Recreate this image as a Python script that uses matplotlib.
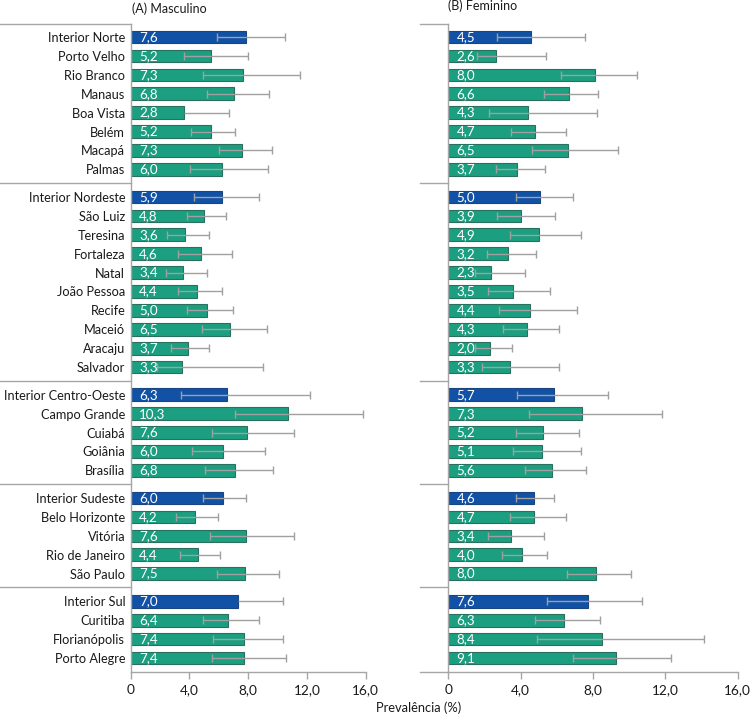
import numpy as np
import matplotlib
matplotlib.use("Agg")
import matplotlib.pyplot as plt

plt.rcParams['font.family'] = ['Lato', 'DejaVu Sans']

# ---------------- data ----------------
groups = ["Norte", "Nordeste", "Centro-Oeste", "Sudeste", "Sul"]
group_sizes = [8, 10, 5, 5, 4]
cities = [
    "Interior Norte", "Porto Velho", "Rio Branco", "Manaus", "Boa Vista", "Belém", "Macapá", "Palmas",
    "Interior Nordeste", "São Luiz", "Teresina", "Fortaleza", "Natal", "João Pessoa", "Recife", "Maceió",
    "Aracaju", "Salvador",
    "Interior Centro-Oeste", "Campo Grande", "Cuiabá", "Goiânia", "Brasília",
    "Interior Sudeste", "Belo Horizonte", "Vitória", "Rio de Janeiro", "São Paulo",
    "Interior Sul", "Curitiba", "Florianópolis", "Porto Alegre",
]

# printed prevalence values
masc_labels = [7.6, 5.2, 7.3, 6.8, 2.8, 5.2, 7.3, 6.0,
               5.9, 4.8, 3.6, 4.6, 3.4, 4.4, 5.0, 6.5, 3.7, 3.3,
               6.3, 10.3, 7.6, 6.0, 6.8,
               6.0, 4.2, 7.6, 4.4, 7.5,
               7.0, 6.4, 7.4, 7.4]
fem_labels = [4.5, 2.6, 8.0, 6.6, 4.3, 4.7, 6.5, 3.7,
              5.0, 3.9, 4.9, 3.2, 2.3, 3.5, 4.4, 4.3, 2.0, 3.3,
              5.7, 7.3, 5.2, 5.1, 5.6,
              4.6, 4.7, 3.4, 4.0, 8.0,
              7.6, 6.3, 8.4, 9.1]

# bar lengths as drawn
masc_bar = [7.87, 5.47, 7.62, 7.05, 3.65, 5.45, 7.60, 6.19,
            6.19, 5.01, 3.70, 4.76, 3.56, 4.53, 5.22, 6.76, 3.88, 3.47,
            6.58, 10.71, 7.92, 6.26, 7.08,
            6.26, 4.36, 7.85, 4.56, 7.78,
            7.33, 6.60, 7.69, 7.73]
masc_low = [5.85, 3.65, 4.92, 5.22, np.nan, 4.13, 5.99, 4.04,
            4.31, 3.85, 2.49, 3.24, 2.40, 3.24, 3.83, 4.87, 2.74, 1.77,
            3.45, 7.08, 5.56, 4.19, 5.08,
            4.94, 3.11, 5.40, 3.36, 5.90,
            np.nan, 4.94, 5.62, 5.56]
masc_high = [10.53, 7.96, 11.55, 9.41, 6.71, 7.12, 9.60, 9.37,
             8.73, 6.51, 5.35, 6.92, 5.17, 6.24, 6.99, 9.30, 5.35, 9.01,
             12.18, 15.84, 11.14, 9.17, 9.67,
             7.85, 5.96, 11.14, 6.08, 10.12,
             10.35, 8.71, 10.37, 10.55]

fem_bar = [4.57, 2.62, 8.13, 6.66, 4.41, 4.78, 6.64, 3.78,
           5.09, 4.00, 5.02, 3.28, 2.34, 3.56, 4.52, 4.34, 2.29, 3.41,
           5.83, 7.38, 5.24, 5.18, 5.72,
           4.72, 4.74, 3.47, 4.06, 8.15,
           7.71, 6.38, 8.48, 9.28]
fem_low = [2.71, 1.57, 6.23, 5.31, 2.27, 3.45, 4.61, 2.65,
           3.73, 2.68, 3.43, 2.16, 1.48, 2.21, 2.82, 3.03, 1.48, 1.86,
           3.78, 4.46, 3.76, 3.60, 4.22,
           3.76, 3.43, 2.21, 2.99, 6.55,
           5.48, 4.81, 4.91, 6.90]
fem_high = [7.54, 5.42, 10.45, 8.30, 8.24, 6.53, 9.40, 5.37,
            6.88, 5.88, 7.32, 4.87, 4.26, 5.64, 7.10, 6.10, 3.51, 6.12,
            8.82, 11.84, 7.25, 7.36, 7.62,
            5.83, 6.51, 5.31, 5.48, 10.10,
            10.71, 8.41, 14.16, 12.32]

xticks = [0, 4, 8, 12, 16]
xtick_labels = ["0", "4,0", "8,0", "12,0", "16,0"]

# ---------------- layout ----------------
BLUE = "#1152a6"
GREEN = "#1c9f80"
BLUE_EDGE = "#1a4580"
GREEN_EDGE = "#2b6f5f"
LINE = "#a6a6a6"
ERR = "#a0a0a0"
TXT = "#1a1a1a"
GAP = 0.465

ypos = []
seps = []
idx = 0
for g, n in enumerate(group_sizes):
    for k in range(n):
        ypos.append(idx + g * GAP)
        idx += 1
ypos = np.array(ypos)
starts = np.cumsum([0] + group_sizes[:-1])
for s in starts[1:]:
    seps.append((ypos[s - 1] + ypos[s]) / 2)
first_idx = set(starts.tolist())
colors = [BLUE if i in first_idx else GREEN for i in range(len(cities))]
edges = [BLUE_EDGE if i in first_idx else GREEN_EDGE for i in range(len(cities))]

ytop = ypos[0] - 0.69
ybot = ypos[-1] + 0.74

W, H = 750, 716
fig = plt.figure(figsize=(W / 100, H / 100), dpi=100)
bottom = (H - 672) / H
height = (672 - 24) / H
axL = fig.add_axes([130.7 / W, bottom, 235 / W, height])
axR = fig.add_axes([448.3 / W, bottom, 289.4 / W, height])


def draw(ax, bars, low, high, labels, sep_left_px, axis_w_px, show_names):
    bars = np.array(bars)
    low = np.array(low)
    high = np.array(high)
    ax.barh(ypos, bars, height=0.67, color=colors, edgecolor=edges,
            linewidth=0.8, zorder=2)
    xs = np.where(np.isnan(low), bars, low)
    ax.hlines(ypos, xs, high, color=ERR, linewidth=1.0, zorder=3)
    ax.scatter(high, ypos, marker='|', s=40, color=ERR, linewidths=1.0, zorder=3)
    ok = ~np.isnan(low)
    ax.scatter(low[ok], ypos[ok], marker='|', s=40, color=ERR, linewidths=1.0, zorder=3)
    for y, v in zip(ypos, labels):
        ax.annotate(f"{v:.1f}".replace('.', ','), xy=(0, y), xytext=(6, 0),
                    textcoords='offset points', va='center', ha='left',
                    color='white', fontsize=9.6, zorder=4)
    ax.set_xlim(0, 16)
    ax.set_ylim(ybot, ytop)
    ax.set_xticks(xticks)
    ax.set_xticklabels(xtick_labels, fontsize=9.8, color=TXT)
    ax.tick_params(axis='x', direction='out', length=5, color=LINE, width=1, pad=4)
    ax.set_yticks(ypos)
    if show_names:
        ax.set_yticklabels(cities, fontsize=9.2, color=TXT)
    else:
        ax.set_yticklabels([])
    ax.tick_params(axis='y', length=0, pad=4)
    for s in ['top', 'right']:
        ax.spines[s].set_visible(False)
    for s in ['left', 'bottom']:
        ax.spines[s].set_color(LINE)
        ax.spines[s].set_linewidth(1)
    tr = ax.get_yaxis_transform()
    x0 = -sep_left_px / axis_w_px
    for y in [ytop] + seps:
        ax.plot([x0, 0], [y, y], color=LINE, linewidth=1, transform=tr, clip_on=False)
    return ax


draw(axL, masc_bar, masc_low, masc_high, masc_labels, 130.7, 235, True)
draw(axR, fem_bar, fem_low, fem_high, fem_labels, 28.3, 289.4, False)
# extension of bottom axis line to the left in the right panel
axR.plot([-28.3 / 289.4, 0], [0, 0], color=LINE, linewidth=1,
         transform=axR.transAxes, clip_on=False)

fig.text(131.7 / W, 1 - 9 / H, "(A) Masculino", fontsize=9.0, color=TXT,
         ha='left', va='center')
fig.text(448.3 / W, 1 - 6 / H, "(B) Feminino", fontsize=9.0, color=TXT,
         ha='left', va='center')
fig.text(419 / W, 1 - 708 / H, "Prevalência (%)", fontsize=9.3, color=TXT,
         ha='center', va='center')

fig.savefig("out.png", dpi=100)
